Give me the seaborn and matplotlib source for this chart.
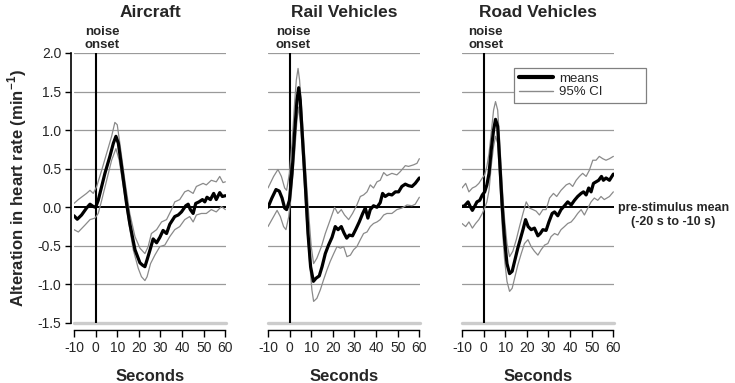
import matplotlib
matplotlib.use("Agg")
import matplotlib.pyplot as plt
from matplotlib.lines import Line2D
import matplotlib.transforms as mtransforms
import seaborn as sns

# ---- data -----------------------------------------------------------
panel_titles = ["Aircraft", "Rail Vehicles", "Road Vehicles"]
x_ticks = [-10, 0, 10, 20, 30, 40, 50, 60]
y_ticks = [-1.5, -1.0, -0.5, 0.0, 0.5, 1.0, 1.5, 2.0]

# Aircraft
air_x = [-10, -8.5, -6.5, -4.2, -2.6, -1.1, 0, 1.2, 2.8, 4.3, 6.6, 8.2, 9.4, 10.5, 12.0, 14.3,
         15.8, 18.2, 20.5, 21.7, 22.8, 23.8, 25.4, 26.6, 28.2, 29.7, 31.2, 32.8, 34.3, 36.6,
         38.2, 39.7, 41.7, 42.8, 43.8, 45.1, 46.3, 47.8, 49.4, 50.5, 51.5, 53.1, 54.6, 55.8,
         57.4, 58.6, 60]
air_mean = [-0.11, -0.155, -0.10, -0.01, 0.04, 0.01, 0.0, 0.09, 0.27, 0.44, 0.66, 0.83, 0.92,
            0.83, 0.53, 0.05, -0.21, -0.55, -0.72, -0.75, -0.77, -0.68, -0.53, -0.41, -0.46,
            -0.39, -0.30, -0.34, -0.22, -0.12, -0.10, -0.06, 0.02, 0.04, -0.03, -0.08, 0.05,
            0.07, 0.10, 0.07, 0.13, 0.10, 0.18, 0.10, 0.19, 0.14, 0.15]
air_up_x = [-10, -8.0, -4.2, -2.6, -1.1, 0.5, 2.8, 5.1, 7.4, 8.9, 10.0, 11.2, 13.5, 15.8, 18.2,
            20.5, 22.8, 24.3, 25.8, 28.2, 30.5, 32.8, 35.1, 36.6, 38.9, 41.2, 42.8, 45.1, 46.6,
            49.7, 51.2, 53.5, 55.8, 57.4, 58.9, 60]
air_up = [0.05, 0.10, 0.18, 0.22, 0.18, 0.27, 0.48, 0.70, 0.92, 1.10, 1.07, 0.83, 0.35, -0.08,
          -0.38, -0.53, -0.60, -0.51, -0.34, -0.29, -0.19, -0.16, -0.03, 0.07, 0.10, 0.20, 0.22,
          0.18, 0.27, 0.31, 0.29, 0.35, 0.33, 0.40, 0.32, 0.33]
air_lo_x = [-10, -8.0, -4.9, -2.6, -0.3, 1.2, 2.8, 5.1, 7.4, 9.4, 10.9, 12.8, 15.1, 17.4, 19.7,
            21.2, 22.8, 23.8, 25.4, 27.4, 29.7, 32.0, 34.3, 36.6, 38.9, 41.2, 43.5, 45.1, 46.6,
            48.9, 51.2, 53.5, 55.8, 58.2, 60]
air_lo = [-0.29, -0.32, -0.23, -0.16, -0.14, -0.08, 0.09, 0.35, 0.61, 0.76, 0.61, 0.27, -0.16,
          -0.55, -0.79, -0.90, -0.95, -0.90, -0.73, -0.62, -0.51, -0.49, -0.38, -0.29, -0.25,
          -0.16, -0.12, -0.19, -0.10, -0.08, -0.08, -0.03, -0.06, 0.01, -0.03]

# Rail vehicles
rail_x = [-10, -8.2, -6.3, -4.8, -3.5, -2.3, -1.4, -0.1, 1.1, 2.3, 3.4, 4.2, 4.9, 6.0, 7.3, 8.5,
          9.7, 11.0, 12.2, 13.7, 15.0, 16.5, 18.0, 19.6, 21.1, 22.4, 23.9, 25.1, 26.4, 27.6,
          29.1, 30.7, 32.2, 33.8, 35.0, 36.2, 37.3, 38.8, 40.4, 41.9, 43.0, 44.2, 45.8, 47.3,
          48.9, 50.4, 51.9, 53.5, 55.0, 56.6, 58.1, 60]
rail_mean = [0.0, 0.12, 0.23, 0.21, 0.12, -0.01, -0.03, 0.09, 0.44, 0.96, 1.39, 1.55, 1.39, 0.87,
             0.27, -0.34, -0.77, -0.96, -0.92, -0.89, -0.77, -0.60, -0.49, -0.39, -0.25, -0.29,
             -0.25, -0.33, -0.40, -0.36, -0.37, -0.28, -0.19, -0.08, -0.01, -0.14, -0.03, 0.02,
             0.0, 0.06, 0.18, 0.14, 0.17, 0.16, 0.20, 0.20, 0.27, 0.30, 0.28, 0.27, 0.31, 0.38]
rail_up_x = [-10, -7.4, -5.4, -3.8, -2.3, -1.4, -0.1, 1.1, 2.3, 3.1, 3.9, 4.6, 5.7, 7.3, 8.8,
             10.0, 11.1, 12.6, 14.7, 16.5, 18.8, 20.8, 22.3, 23.9, 25.4, 27.3, 29.1, 31.1, 32.7,
             34.2, 35.8, 37.3, 38.8, 40.4, 41.9, 43.5, 45.0, 47.3, 49.6, 51.1, 53.5, 55.0, 57.3,
             58.9, 60]
rail_up = [0.25, 0.40, 0.49, 0.40, 0.25, 0.22, 0.44, 0.83, 1.35, 1.65, 1.80, 1.65, 1.22, 0.53,
           -0.08, -0.51, -0.73, -0.66, -0.51, -0.34, -0.16, 0.0, -0.08, -0.03, -0.10, -0.16,
           -0.08, 0.03, 0.14, 0.16, 0.20, 0.29, 0.25, 0.33, 0.35, 0.45, 0.41, 0.44, 0.42, 0.46,
           0.54, 0.53, 0.55, 0.57, 0.63]
rail_lo_x = [-10, -7.4, -5.8, -4.3, -2.8, -1.7, -0.4, 0.8, 2.3, 3.4, 4.2, 5.2, 6.5, 8.0, 9.3,
             10.3, 11.1, 12.6, 14.2, 15.7, 17.3, 18.8, 20.4, 21.9, 23.5, 25.0, 26.5, 28.1, 29.6,
             31.1, 32.7, 34.2, 35.8, 37.3, 38.8, 40.4, 41.9, 43.5, 45.0, 47.3, 49.6, 51.9, 54.3,
             56.6, 58.1, 60]
rail_lo = [-0.25, -0.12, -0.04, -0.12, -0.25, -0.29, -0.12, 0.18, 0.70, 1.13, 1.30, 1.04, 0.44,
           -0.25, -0.73, -1.07, -1.22, -1.18, -1.07, -0.94, -0.81, -0.70, -0.60, -0.51, -0.53,
           -0.51, -0.64, -0.62, -0.55, -0.51, -0.42, -0.34, -0.32, -0.25, -0.21, -0.19, -0.16,
           -0.10, -0.08, -0.08, -0.03, -0.01, 0.03, 0.02, 0.04, 0.13]

# Road vehicles
road_x = [-10, -8.8, -7.2, -6.2, -5.2, -4.2, -3.1, -1.8, -0.6, 0.5, 1.5, 2.5, 3.5, 4.6, 5.5, 6.5,
          7.4, 8.6, 9.7, 10.8, 12.0, 13.2, 14.5, 15.8, 16.9, 18.2, 19.4, 20.6, 22.0, 23.5, 25.1,
          26.2, 27.4, 28.9, 30.2, 31.7, 32.8, 34.3, 35.8, 37.4, 38.9, 40.5, 42.0, 43.5, 45.1,
          46.2, 47.4, 48.6, 49.7, 50.8, 52.0, 53.2, 54.5, 55.4, 56.6, 58.2, 59.3, 60]
road_mean = [0.01, 0.02, 0.07, 0.01, -0.04, 0.01, 0.07, 0.09, 0.16, 0.20, 0.29, 0.44, 0.74, 1.00,
             1.14, 1.05, 0.61, 0.01, -0.42, -0.73, -0.86, -0.83, -0.68, -0.53, -0.42, -0.29,
             -0.16, -0.25, -0.29, -0.27, -0.37, -0.34, -0.29, -0.30, -0.19, -0.08, -0.06, -0.11,
             -0.03, 0.02, 0.07, 0.03, 0.09, 0.14, 0.18, 0.20, 0.16, 0.25, 0.20, 0.31, 0.33, 0.35,
             0.40, 0.35, 0.38, 0.35, 0.40, 0.43]
road_up_x = [-10, -8.3, -6.8, -5.2, -3.7, -2.2, -0.6, 0.5, 1.5, 2.5, 3.5, 4.6, 5.5, 6.5, 7.4, 8.6,
             9.7, 10.8, 12.0, 13.5, 15.1, 16.6, 18.2, 19.7, 21.2, 22.8, 24.3, 25.8, 27.4, 28.9,
             30.5, 32.3, 33.8, 35.8, 38.2, 39.7, 41.2, 42.8, 44.3, 45.8, 47.4, 48.9, 50.5, 52.0,
             53.5, 55.1, 56.6, 58.2, 60]
road_up = [0.25, 0.31, 0.20, 0.25, 0.27, 0.31, 0.38, 0.42, 0.53, 0.70, 0.96, 1.26, 1.37, 1.26,
           0.87, 0.27, -0.16, -0.47, -0.64, -0.57, -0.42, -0.25, -0.08, 0.07, -0.01, -0.03,
           -0.05, -0.10, -0.03, -0.03, 0.12, 0.18, 0.14, 0.22, 0.29, 0.31, 0.27, 0.35, 0.40,
           0.44, 0.40, 0.48, 0.61, 0.61, 0.66, 0.63, 0.61, 0.63, 0.66]
road_lo_x = [-10, -8.3, -6.8, -5.2, -3.7, -2.2, -0.6, 0.5, 1.5, 2.5, 3.5, 4.6, 5.5, 6.5, 7.4, 8.6,
             9.7, 10.8, 12.0, 13.2, 14.5, 15.8, 17.4, 18.9, 20.5, 22.0, 23.5, 25.1, 26.6, 28.2,
             29.7, 31.2, 32.8, 34.3, 35.8, 37.4, 38.9, 40.5, 42.0, 43.5, 45.1, 46.6, 48.2, 49.7,
             51.2, 52.8, 54.3, 55.8, 58.2, 60]
road_lo = [-0.21, -0.25, -0.19, -0.27, -0.21, -0.16, -0.08, -0.01, 0.07, 0.22, 0.53, 0.79, 0.92,
           0.83, 0.40, -0.25, -0.68, -0.96, -1.09, -1.05, -0.90, -0.75, -0.60, -0.47, -0.42,
           -0.51, -0.57, -0.62, -0.55, -0.49, -0.47, -0.38, -0.34, -0.36, -0.29, -0.25, -0.21,
           -0.19, -0.14, -0.08, -0.03, -0.10, -0.01, 0.07, 0.12, 0.09, 0.14, 0.10, 0.14, 0.20]

panels = [
    (air_x, air_mean, air_up_x, air_up, air_lo_x, air_lo),
    (rail_x, rail_mean, rail_up_x, rail_up, rail_lo_x, rail_lo),
    (road_x, road_mean, road_up_x, road_up, road_lo_x, road_lo),
]

# ---- style -------------------------------------------------------------
sns.set_style("white")
plt.rcParams['font.family'] = ['Liberation Sans', 'DejaVu Sans']
plt.rcParams['mathtext.fontset'] = 'custom'
plt.rcParams['mathtext.rm'] = 'Liberation Sans'
plt.rcParams['mathtext.bf'] = 'Liberation Sans:bold'

CI_GREY = '#8a8a8a'

fig = plt.figure(figsize=(7.35, 3.83), dpi=100)
lefts = [74 / 735, 268 / 735, 462 / 735]
width = 152 / 735
bottom = 1 - 323 / 383
height = 270 / 383
onset_x = [-5.0, -6.3, -7.2]

axes = []
for i, (xs, mean, ux, up, lx, lo) in enumerate(panels):
    ax = fig.add_axes([lefts[i], bottom, width, height])
    axes.append(ax)

    for yv in y_ticks[1:]:
        if yv != 0:
            ax.axhline(yv, color='#9a9a9a', lw=0.9, zorder=0)
    ax.axhline(-1.5, color='#cccccc', lw=2.4, zorder=0, clip_on=False)
    ax.axhline(0, color='black', lw=1.4, zorder=1)
    ax.axvline(0, color='black', lw=1.5, zorder=1)

    sns.lineplot(x=ux, y=up, ax=ax, color=CI_GREY, lw=0.9, sort=False, estimator=None, zorder=2)
    sns.lineplot(x=lx, y=lo, ax=ax, color=CI_GREY, lw=0.9, sort=False, estimator=None, zorder=2)
    sns.lineplot(x=xs, y=mean, ax=ax, color='black', lw=2.3, sort=False, estimator=None, zorder=3)

    ax.set_xlim(-10, 60.3)
    ax.set_ylim(-1.5, 2.0)
    ax.set_xticks(x_ticks)
    ax.set_xticklabels([str(t) for t in x_ticks], fontsize=10)
    ax.tick_params(axis='x', direction='out', length=5, width=1, color='black', pad=3, bottom=True)
    ax.spines['bottom'].set_position(('outward', 5))
    ax.spines['bottom'].set_bounds(-10, 60)
    ax.spines['bottom'].set_color('black')
    ax.spines['bottom'].set_linewidth(1.0)
    for s in ['top', 'right']:
        ax.spines[s].set_visible(False)

    if i == 0:
        ax.set_yticks(y_ticks)
        ax.set_yticklabels([f"{t:.1f}" for t in y_ticks], fontsize=10)
        ax.tick_params(axis='y', direction='out', length=4, width=1, color='black', left=True, pad=3)
        ax.spines['left'].set_position(('outward', 2))
        ax.spines['left'].set_color('black')
        ax.spines['left'].set_linewidth(1.2)
        ax.set_ylabel('Alteration in heart rate (min$^{\\mathbf{-1}}$)', fontsize=12,
                      fontweight='bold', labelpad=6)
    else:
        ax.set_yticks([])
        ax.spines['left'].set_visible(False)
        ax.set_ylabel('')

    ax.set_xlabel('Seconds', fontsize=12, fontweight='bold', labelpad=10)
    ax.set_title(panel_titles[i], fontsize=12.5, fontweight='bold', pad=26)
    ax.text(onset_x[i], 2.03, 'noise\nonset', fontsize=9.5, fontweight='bold',
            ha='left', va='bottom', linespacing=1.05)

# pre-stimulus annotation to the right of the last panel
trans = mtransforms.blended_transform_factory(axes[2].transAxes, axes[2].transData)
axes[2].text(1.025, -0.10, 'pre-stimulus mean\n(-20 s to -10 s)', transform=trans,
             fontsize=9, fontweight='bold', ha='left', va='center', multialignment='center',
             linespacing=1.25, clip_on=False)

handles = [Line2D([], [], color='black', lw=3), Line2D([], [], color=CI_GREY, lw=1.0)]
leg = fig.legend(handles, ['means', '95% CI'], loc='upper left',
                 bbox_to_anchor=(514 / 735, 1 - 103 / 383, 132 / 735, 35 / 383),
                 mode='expand', borderaxespad=0,
                 prop={'family': ['Liberation Sans Narrow', 'Liberation Sans'], 'size': 9.5},
                 frameon=True, fancybox=False, handlelength=2.6, handletextpad=0.45,
                 labelspacing=0.1, borderpad=0.35)
leg.get_frame().set_edgecolor('#808080')
leg.get_frame().set_linewidth(0.9)
leg.get_frame().set_alpha(1)

fig.savefig('out.png', dpi=100)
